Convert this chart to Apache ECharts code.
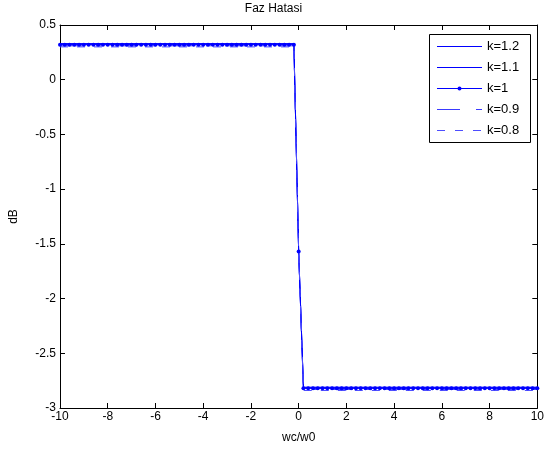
<!DOCTYPE html>
<html><head><meta charset="utf-8">
<script src="https://cdn.jsdelivr.net/npm/echarts@6/dist/echarts.min.js"></script>
<style>html,body{margin:0;padding:0;background:#fff}#c{width:547px;height:450px}</style>
</head><body><div id="c"></div>
<script>
// x grid for k=1 (marked points)
var xK1 = [-10,-9.8,-9.6,-9.4,-9.2,-9,-8.8,-8.6,-8.4,-8.2,-8,-7.8,-7.6,-7.4,-7.2,-7,-6.8,-6.6,-6.4,-6.2,-6,-5.8,-5.6,-5.4,-5.2,-5,-4.8,-4.6,-4.4,-4.2,-4,-3.8,-3.6,-3.4,-3.2,-3,-2.8,-2.6,-2.4,-2.2,-2,-1.8,-1.6,-1.4,-1.2,-1,-0.8,-0.6,-0.4,-0.2,0,0.2,0.4,0.6,0.8,1,1.2,1.4,1.6,1.8,2,2.2,2.4,2.6,2.8,3,3.2,3.4,3.6,3.8,4,4.2,4.4,4.6,4.8,5,5.2,5.4,5.6,5.8,6,6.2,6.4,6.6,6.8,7,7.2,7.4,7.6,7.8,8,8.2,8.4,8.6,8.8,9,9.2,9.4,9.6,9.8,10];
var yK1 = [0.32,0.32,0.32,0.32,0.32,0.32,0.32,0.32,0.32,0.32,0.32,0.32,0.32,0.32,0.32,0.32,0.32,0.32,0.32,0.32,0.32,0.32,0.32,0.32,0.32,0.32,0.32,0.32,0.32,0.32,0.32,0.32,0.32,0.32,0.32,0.32,0.32,0.32,0.32,0.32,0.32,0.32,0.32,0.32,0.32,0.32,0.32,0.32,0.32,0.32,-1.57,-2.82,-2.82,-2.82,-2.82,-2.82,-2.82,-2.82,-2.82,-2.82,-2.82,-2.82,-2.82,-2.82,-2.82,-2.82,-2.82,-2.82,-2.82,-2.82,-2.82,-2.82,-2.82,-2.82,-2.82,-2.82,-2.82,-2.82,-2.82,-2.82,-2.82,-2.82,-2.82,-2.82,-2.82,-2.82,-2.82,-2.82,-2.82,-2.82,-2.82,-2.82,-2.82,-2.82,-2.82,-2.82,-2.82,-2.82,-2.82,-2.82,-2.82];
// breakpoints for the other curves (piecewise flat)
var xBreak = [-10, -0.2, 0, 0.2, 10];
var yK12 = [0.33, 0.33, -1.57, -2.81, -2.81];
var yK11 = [0.325, 0.325, -1.57, -2.815, -2.815];
var yK09 = [0.31, 0.31, -1.57, -2.83, -2.83];
var yK08 = [0.30, 0.30, -1.57, -2.84, -2.84];
var seriesNames = ['k=1.2','k=1.1','k=1','k=0.9','k=0.8'];
var xTicks = [-10,-8,-6,-4,-2,0,2,4,6,8,10];
var yTicks = [-3,-2.5,-2,-1.5,-1,-0.5,0,0.5];

function pairs(xs, ys){ return xs.map(function(x,i){return [x, ys[i]];}); }
var F = 'Liberation Sans, Arial, Helvetica, sans-serif';
var FS = 12;
var blue = '#0000ff', blue2 = '#3a3aff', blue3 = '#4d4dff';
var dashDot = [22,14,5,14], dashed = [8,9];
var styles = [
  {color:blue, dash:null, dot:false},
  {color:blue, dash:null, dot:false},
  {color:blue, dash:null, dot:true},
  {color:blue2, dash:[23,16,6,0], dot:false},
  {color:blue3, dash:[8,10], dot:false}
];

// legend box drawn as graphic (MATLAB-style)
var LB = {x:429, y:34, w:101, h:108, row:21, lineX0:437, lineX1:482, textX:487};
var legendEls = [{type:'rect', shape:{x:LB.x+0.5, y:LB.y+0.5, width:LB.w, height:LB.h},
  style:{fill:'#fff', stroke:'#000', lineWidth:1}, z:100}];
seriesNames.forEach(function(n, i){
  var cy = LB.y + 12 + i*LB.row + 0.5;
  var st = styles[i];
  legendEls.push({type:'line', shape:{x1:LB.lineX0, y1:cy, x2:LB.lineX1, y2:cy},
    style:{stroke:st.color, lineWidth:1, lineDash:st.dash}, z:101});
  if (st.dot) legendEls.push({type:'circle', shape:{cx:(LB.lineX0+LB.lineX1)/2, cy:cy, r:2},
    style:{fill:st.color, stroke:null}, z:102});
  legendEls.push({type:'text', x:LB.textX, y:cy, z:103,
    style:{text:n, fill:'#000', font:(FS+1)+'px '+F, textVerticalAlign:'middle', verticalAlign:'middle'}});
});

var chart = echarts.init(document.getElementById('c'), null, {renderer:'canvas'});
var axisCommon = {
  axisLine:{show:true, onZero:false, lineStyle:{color:'#000', width:1}},
  axisTick:{show:true, inside:true, length:5, lineStyle:{color:'#000'}},
  splitLine:{show:false}
};
chart.setOption({
  animation:false,
  backgroundColor:'#fff',
  title:{text:'Faz Hatasi', left:'center', top:3, padding:0, textStyle:{fontFamily:F, fontSize:FS, fontWeight:'normal', color:'#000'}},
  grid:{left:59, right:4, top:25, bottom:42, containLabel:false},
  graphic:{elements:legendEls},
  xAxis:[
    Object.assign({type:'value', min:xTicks[0], max:xTicks[xTicks.length-1], interval:2,
      name:'wc/w0', nameLocation:'middle', nameGap:24,
      nameTextStyle:{fontFamily:F, fontSize:FS, color:'#000'},
      axisLabel:{fontFamily:F, fontSize:FS, color:'#000', margin:3}}, axisCommon),
    Object.assign({type:'value', position:'top', min:-10, max:10, interval:2, axisLabel:{show:false}}, axisCommon)
  ],
  yAxis:[
    Object.assign({type:'value', min:yTicks[0], max:yTicks[yTicks.length-1], interval:0.5,
      name:'dB', nameLocation:'middle', nameGap:40, nameRotate:90,
      nameTextStyle:{fontFamily:F, fontSize:FS, color:'#000'},
      axisLabel:{fontFamily:F, fontSize:FS, color:'#000', margin:4}}, axisCommon),
    Object.assign({type:'value', position:'right', min:-3, max:0.5, interval:0.5, axisLabel:{show:false}}, axisCommon)
  ],
  series:[
    {name:seriesNames[0], type:'line', symbol:'none', data:pairs(xBreak,yK12), lineStyle:{color:blue, width:1}, itemStyle:{color:blue}},
    {name:seriesNames[1], type:'line', symbol:'none', data:pairs(xBreak,yK11), lineStyle:{color:blue, width:1}, itemStyle:{color:blue}},
    {name:seriesNames[2], type:'line', symbol:'circle', symbolSize:4, showSymbol:true, data:pairs(xK1,yK1), lineStyle:{color:blue, width:1}, itemStyle:{color:blue}},
    {name:seriesNames[3], type:'line', symbol:'none', data:pairs(xBreak,yK09), lineStyle:{color:blue2, width:1, type:dashDot}, itemStyle:{color:blue2}},
    {name:seriesNames[4], type:'line', symbol:'none', data:pairs(xBreak,yK08), lineStyle:{color:blue3, width:1, type:dashed}, itemStyle:{color:blue3}}
  ]
});
</script></body></html>
